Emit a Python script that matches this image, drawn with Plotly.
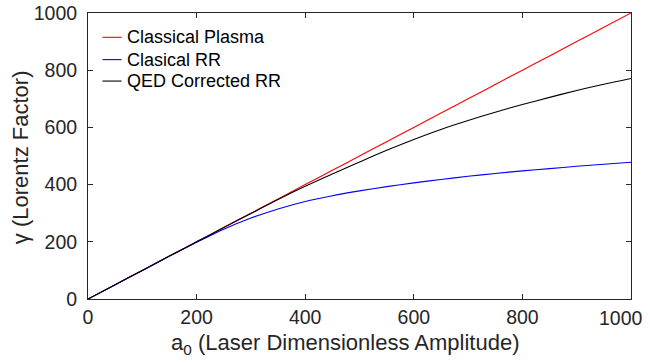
import plotly.graph_objects as go

a0 = [0, 50, 100, 150, 200, 250, 300, 350, 400, 450, 500, 550, 600, 650, 700, 750, 800, 850, 900, 950, 1000]
classical_plasma = [0, 50, 100, 150, 200, 250, 300, 350, 400, 450, 500, 550, 600, 650, 700, 750, 800, 850, 900, 950, 1000]
classical_rr = [0, 50, 100, 150, 198, 244, 283, 315, 341, 361, 378, 393, 406, 418, 429, 439, 448, 456, 464, 471, 478]
qed_rr = [0, 50, 100, 150, 200, 250, 299, 348, 394, 437, 479, 520, 558, 593, 624, 653, 680, 705, 729, 751, 771]
names = ["Classical Plasma", "Clasical RR", "QED Corrected RR"]
colors = ["#ff0000", "#0000ff", "#000000"]
ticks = [0, 200, 400, 600, 800, 1000]
tick_labels = ["0", "200", "400", "600", "800", "1000"]
x_title = "a<sub>0</sub> (Laser Dimensionless Amplitude)"
y_title = "γ (Lorentz Factor)"

FONT = "Liberation Sans, Arial, Helvetica"
AX = "#262626"

fig = go.Figure()
for name, ys, c in zip(names, [classical_plasma, classical_rr, qed_rr], colors):
    fig.add_trace(go.Scatter(x=a0, y=ys, mode="lines", name=name,
                             line=dict(color=c, width=1.1, shape="spline", smoothing=0.8),
                             showlegend=False))

# MATLAB-style legend (no box), top-left inside the axes
leg_y = [0.915, 0.837, 0.762]
for name, c, yy in zip(names, colors, leg_y):
    fig.add_shape(type="line", xref="paper", yref="paper",
                  x0=0.0267, x1=0.0618, y0=yy, y1=yy, line=dict(color=c, width=1.1))
    fig.add_annotation(xref="paper", yref="paper", x=0.0673, y=yy, text=name,
                       showarrow=False, xanchor="left", yanchor="middle",
                       font=dict(family=FONT, size=18, color="#000000"))

axis_common = dict(
    showgrid=False, zeroline=False, showline=True, linecolor=AX, linewidth=1,
    mirror="ticks", ticks="inside", ticklen=5, tickcolor=AX, automargin=False,
    tickfont=dict(family=FONT, size=19.5, color=AX),
)
# last x label is drawn shifted left (as MATLAB does) so it stays inside the page
fig.update_xaxes(range=[0, 1000], tickvals=ticks, ticktext=tick_labels[:-1] + [""],
                 ticklabelstandoff=1, **axis_common)
fig.add_annotation(xref="paper", yref="paper", x=1.0258, y=-0.066, text=tick_labels[-1],
                   showarrow=False, xanchor="right", yanchor="middle",
                   font=dict(family=FONT, size=19.5, color=AX))
fig.update_yaxes(range=[0, 1000], tickvals=ticks, ticktext=tick_labels,
                 ticklabelstandoff=6, **axis_common)

# axis titles
fig.add_annotation(xref="paper", yref="paper", x=0.475, y=-0.157, text=x_title,
                   showarrow=False, xanchor="center", yanchor="middle",
                   font=dict(family=FONT, size=22, color=AX))
fig.add_annotation(xref="paper", yref="paper", x=-0.125, y=0.4965, text=y_title,
                   showarrow=False, xanchor="center", yanchor="middle", textangle=-90,
                   font=dict(family=FONT, size=22, color=AX))

fig.update_layout(width=650, height=363, margin=dict(l=88, r=19, t=13, b=64),
                  paper_bgcolor="white", plot_bgcolor="white")
fig.write_html("out.html")
